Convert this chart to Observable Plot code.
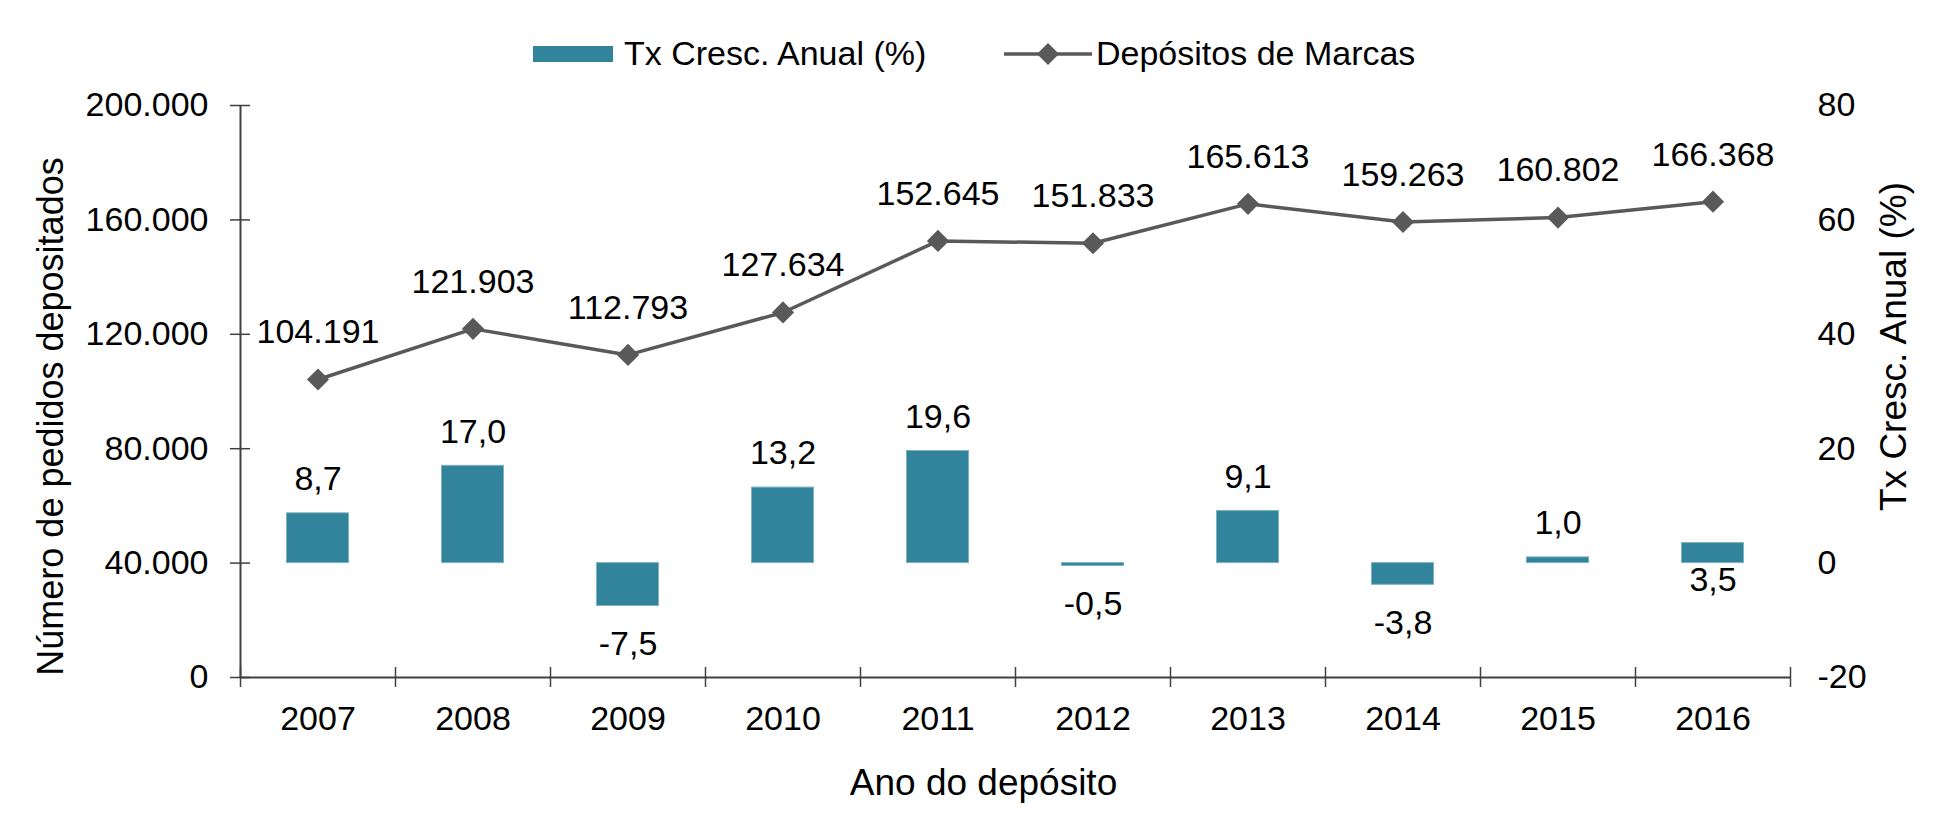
<!DOCTYPE html>
<html>
<head>
<meta charset="utf-8">
<script src="https://cdn.jsdelivr.net/npm/d3@7"></script>
<script src="https://cdn.jsdelivr.net/npm/@observablehq/plot@0.6"></script>
<style>
  html, body { margin: 0; padding: 0; background: #ffffff; }
  body { font-family: "Liberation Sans", Arial, sans-serif; color: #000; }
  #legend { position: relative; width: 1934px; height: 80px; font-size: 34px; }
  #legend .item { position: absolute; top: 36px; line-height: 34px; white-space: nowrap; }
  #legend .swatch { position: absolute; }
  #chart svg { display: block; }
</style>
</head>
<body>
<div id="legend"></div>
<div id="chart"></div>
<script>
// ---- data ----
const years = [2007, 2008, 2009, 2010, 2011, 2012, 2013, 2014, 2015, 2016];
const depositos = [104191, 121903, 112793, 127634, 152645, 151833, 165613, 159263, 160802, 166368];
const crescimento = [8.7, 17.0, -7.5, 13.2, 19.6, -0.5, 9.1, -3.8, 1.0, 3.5];
const leftTicks = [0, 40000, 80000, 120000, 160000, 200000];
const rightTicks = [-20, 0, 20, 40, 60, 80];
const leftDomain = [0, 200000];
const rightDomain = [-20, 80];
const seriesNames = ["Tx Cresc. Anual (%)", "Depósitos de Marcas"];
const axisTitles = { left: "Número de pedidos depositados", right: "Tx Cresc. Anual (%)", bottom: "Ano do depósito" };

// ---- style ----
const barColor = "#31849B";
const lineColor = "#595959";
const axisColor = "#404040";
const FONT = "'Liberation Sans', Arial, sans-serif";
const FS = 34;
const TFS = 37;

const locale = d3.formatLocale({ decimal: ",", thousands: ".", grouping: [3], currency: ["", " €"], minus: "-" });
const fmtInt = locale.format(",.0f");
const fmtPct = locale.format(".1f");

// ---- legend (HTML, above the SVG) ----
const legend = document.getElementById("legend");
legend.innerHTML = `
  <div class="swatch" style="left:533px;top:46px;width:80px;height:16px;background:${barColor}"></div>
  <div class="item" style="left:624px">${seriesNames[0]}</div>
  <svg class="swatch" style="left:1004px;top:38px" width="88" height="32">
    <line x1="0" y1="16" x2="88" y2="16" stroke="${lineColor}" stroke-width="3.5"></line>
    <path d="M44,5 L55,16 L44,27 L33,16 Z" fill="${lineColor}"></path>
  </svg>
  <div class="item" style="left:1096px">${seriesNames[1]}</div>`;

// map the right-axis (growth %) scale into the left-axis scale
const k = (leftDomain[1] - leftDomain[0]) / (rightDomain[1] - rightDomain[0]);
const toLeft = v => leftDomain[0] + (v - rightDomain[0]) * k;
const fromLeft = v => rightDomain[0] + (v - leftDomain[0]) / k;

const lineData = years.map((year, i) => ({ year, value: depositos[i] }));
const barData = years.map((year, i) => ({ year, v: crescimento[i] }));
const bounds = [...years.map(y => y - 0.5), years[years.length - 1] + 0.5];

// in the source, the 2016 label sits below its bar
const labelBelow = d => d.v < 0 || d.year === 2016;
const aboveData = barData.filter(d => !labelBelow(d));
const belowNeg = barData.filter(d => d.v < 0);
const belowPos = barData.filter(d => d.v >= 0 && labelBelow(d));

const plot = Plot.plot({
  width: 1934,
  height: 747,
  marginLeft: 240,
  marginRight: 144,
  marginTop: 25,
  marginBottom: 150,
  style: { fontFamily: FONT, fontSize: FS + "px", color: "#000", background: "#fff", overflow: "visible" },
  x: { type: "linear", domain: [bounds[0], bounds[bounds.length - 1]] },
  y: { domain: leftDomain },
  marks: [
    // bars (growth, right axis)
    Plot.rect(barData, {
      x1: d => d.year - 0.5, x2: d => d.year + 0.5,
      y1: () => toLeft(0), y2: d => toLeft(d.v),
      insetLeft: 46.5, insetRight: 46.5,
      fill: barColor, stroke: "#7fb2c1", strokeWidth: 1
    }),
    // axis lines
    Plot.ruleY([leftDomain[0]], { stroke: axisColor, strokeWidth: 2 }),
    Plot.ruleX([bounds[0]], { stroke: axisColor, strokeWidth: 2 }),
    // left axis ticks & labels
    Plot.axisY(leftTicks, { anchor: "left", tickSize: 20, insetLeft: 10, fill: "none", stroke: axisColor, strokeWidth: 1.5, label: null }),
    Plot.axisY(leftTicks, { anchor: "left", tickSize: 0, tickPadding: 32, tickFormat: fmtInt, label: null, fontSize: FS, fill: "#000" }),
    // right axis labels
    Plot.axisY(rightTicks.map(toLeft), { anchor: "right", tickSize: 0, tickPadding: 27, tickFormat: d => fmtInt(Math.round(fromLeft(d))), label: null, fontSize: FS, fill: "#000" }),
    // x axis ticks at category boundaries & year labels
    Plot.axisX(bounds, { anchor: "bottom", tickSize: 20, insetBottom: 10, fill: "none", stroke: axisColor, strokeWidth: 1.5, label: null }),
    Plot.axisX(years, { anchor: "bottom", tickSize: 0, tickPadding: 28, tickFormat: d => String(d), label: null, fontSize: FS, fill: "#000" }),
    // line series
    Plot.line(lineData, { x: "year", y: "value", stroke: lineColor, strokeWidth: 3.5 }),
    Plot.dot(lineData, { x: "year", y: "value", symbol: "diamond2", r: 10, fill: lineColor, stroke: "none" }),
    Plot.text(lineData, { x: "year", y: "value", text: d => fmtInt(d.value), dy: -47, fontSize: FS, fill: "#000" }),
    // bar labels
    Plot.text(aboveData, { x: "year", y: d => toLeft(d.v), text: d => fmtPct(d.v), dy: -34, fontSize: FS, fill: "#000" }),
    Plot.text(belowNeg, { x: "year", y: d => toLeft(d.v), text: d => fmtPct(d.v), dy: 38, fontSize: FS, fill: "#000" }),
    Plot.text(belowPos, { x: "year", y: () => toLeft(0), text: d => fmtPct(d.v), dy: 17, fontSize: FS, fill: "#000" }),
    // axis titles
    Plot.text([axisTitles.left], { frameAnchor: "left", dx: -189, dy: 25, rotate: -90, textAnchor: "middle", lineAnchor: "middle", fontSize: 36, fill: "#000" }),
    Plot.text([axisTitles.right], { frameAnchor: "right", dx: 104, dy: -45, rotate: -90, textAnchor: "middle", lineAnchor: "middle", fontSize: TFS, fill: "#000" }),
    Plot.text([axisTitles.bottom], { frameAnchor: "bottom", dx: -32, dy: 106, textAnchor: "middle", lineAnchor: "middle", fontSize: TFS, fill: "#000" })
  ]
});
document.getElementById("chart").appendChild(plot);
</script>
</body>
</html>
